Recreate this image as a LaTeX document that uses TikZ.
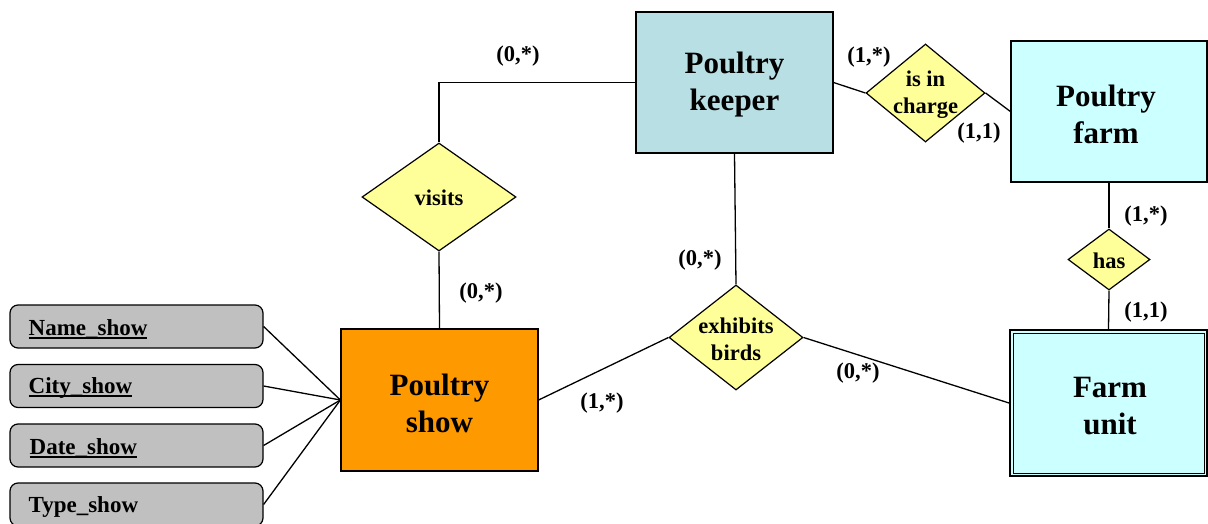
\documentclass[tikz,border=0pt]{standalone}
\usepackage{fontspec}
\setmainfont{Liberation Serif}
\usetikzlibrary{shapes.geometric}
\definecolor{keeperfill}{HTML}{B8DFE3}
\definecolor{farmfill}{HTML}{CCFFFF}
\definecolor{showfill}{HTML}{FF9900}
\definecolor{relfill}{HTML}{FFFF99}
\definecolor{attrfill}{HTML}{C0C0C0}
% underlined key attribute with a heavy rule
\newcommand\keyattr[1]{\setbox0\hbox{#1}\rlap{\rule[-3.5pt]{\wd0}{2.2pt}}\box0}
\begin{document}
\begin{tikzpicture}[x=1pt,y=-1pt,
  line width=1.3pt,
  entity/.style={draw, line width=1.2pt, inner sep=0pt, align=center,
    minimum width=197pt, minimum height=141pt,
    font=\fontsize{31}{37}\selectfont\bfseries},
  entitytext/.style={align=center, inner sep=0pt,
    font=\fontsize{31}{37}\selectfont\bfseries},
  relation/.style={draw, diamond, line width=1.2pt, fill=relfill, inner sep=0pt},
  reltext/.style={align=center, inner sep=0pt,
    font=\fontsize{22.5}{27}\selectfont\bfseries},
  attribute/.style={draw, line width=1.2pt, rounded corners=8pt, fill=attrfill,
    minimum width=253pt, minimum height=43pt, text width=217pt, inner xsep=18pt,
    align=left, font=\fontsize{23}{27}\selectfont\bfseries},
  attrtext/.style={anchor=west, inner sep=0pt,
    font=\fontsize{23}{27}\selectfont\bfseries},
  card/.style={font=\fontsize{22.5}{26}\selectfont\bfseries, inner sep=0pt}]
\useasboundingbox (0,0) rectangle (1208,524);

% entities
\node[entity, fill=keeperfill] (pk) at (734.5,82.5) {};
\node[entity, fill=farmfill, minimum width=196pt] (pf) at (1109,111.5) {};
\node[entity, fill=showfill, minimum height=142pt] (ps) at (439.5,400) {};
\node[entity, fill=farmfill, minimum height=146pt, line width=2pt] (fu) at (1108.5,403) {};
\draw[line width=1pt] ([shift={(4pt,4pt)}]fu.south west) rectangle ([shift={(-4pt,-4pt)}]fu.north east);
\node[entitytext] (pkt) at (734.5,85) {Poultry\\keeper};
\node[entitytext] (pft) at (1106,114) {Poultry\\farm};
\node[entitytext] (pst) at (439.5,403) {Poultry\\show};
\node[entitytext] (fut) at (1110,406) {Farm\\unit};

% relationships
\node[relation, minimum width=154pt, minimum height=108pt] (visits) at (439,197) {};
\node[relation, minimum width=119pt, minimum height=98pt] (charge) at (925.5,93) {};
\node[relation, minimum width=134pt, minimum height=105pt] (exh) at (736,337.5) {};
\node[relation, minimum width=82pt, minimum height=61pt] (has) at (1109,259.5) {};
\node[reltext] (visitst) at (439,198) {visits};
\node[reltext] (charget) at (925.5,95) {is in\\charge};
\node[reltext] (exht) at (736,339) {exhibits\\birds};
\node[reltext] (hast) at (1109,261) {has};

% attributes of Poultry show
\node[attribute] (aname) at (136.5,326.5) {};
\node[attribute] (acity) at (136.5,386) {};
\node[attribute] (adate) at (136.5,445.5) {};
\node[attribute] (atype) at (136.5,504.5) {};
\node[attrtext] (anamet) at (28,329) {\keyattr{Name\_show}};
\node[attrtext] (acityt) at (28,388.5) {\keyattr{City\_show}};
\node[attrtext] (adatet) at (29,448) {\keyattr{Date\_show}};
\node[attrtext] (atypet) at (28,506.5) {Type\_show};

% connectors
\draw (pk.west) -| (visits.north);
\draw (visits.south) -- (ps.north);
\draw (pk.east) -- (charge.west);
\draw (charge.east) -- (pf.west);
\draw (pf.south) -- (has.north);
\draw (has.south) -- (fu.north);
\draw (pk.south) -- (exh.north);
\draw (exh.west) -- (ps.east);
\draw (exh.east) -- (fu.west);
\foreach \a in {aname,acity,adate,atype}
  \draw (\a.east) -- (ps.west);

% cardinalities
\node[card] (c1) at (518,56) {(0,*)};
\node[card] (c2) at (869,57) {(1,*)};
\node[card] (c3) at (979,133) {(1,1)};
\node[card] (c4) at (1146,216) {(1,*)};
\node[card] (c5) at (1146,312) {(1,1)};
\node[card] (c6) at (700,260) {(0,*)};
\node[card] (c7) at (481,293) {(0,*)};
\node[card] (c8) at (858,373) {(0,*)};
\node[card] (c9) at (602,403) {(1,*)};
\end{tikzpicture}
\end{document}
